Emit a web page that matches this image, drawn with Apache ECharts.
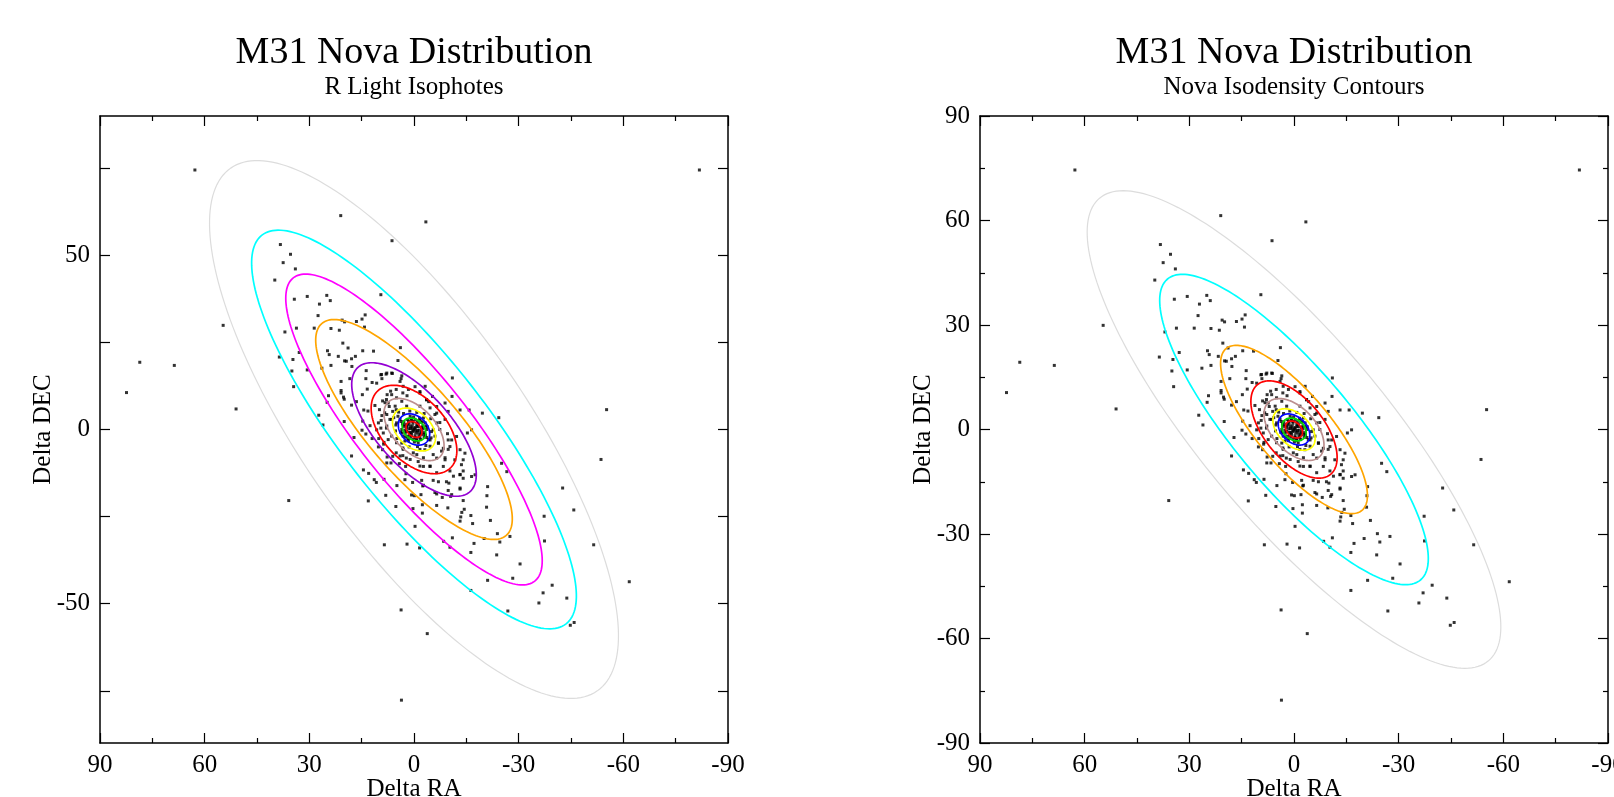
<!DOCTYPE html>
<html>
<head>
<meta charset="utf-8">
<script src="https://cdn.jsdelivr.net/npm/echarts@6/dist/echarts.min.js"></script>
<style>
html, body { margin: 0; padding: 0; background: #fff; }
#chart { width: 1614px; height: 797px; }
</style>
</head>
<body>
<div id="chart"></div>
<script>
// nova positions [Delta RA, Delta DEC]
var novaOuter = [
	[62.8,74.5],[-81.8,74.5],[78.6,19.3],[82.4,10.6],[68.7,18.4],[54.7,29.9],[51.0,5.9],
	[-55.2,5.7],[-53.6,-8.6],[-61.7,-43.7],[3.6,-77.7],[35.9,-20.4],[-3.4,59.6]
]
var novaUpper = [
	[21.0,61.4],[6.3,54.2],[38.3,53.1],[35.4,50.3],[37.5,47.9],[34.0,46.1],[39.9,42.9],[9.5,38.7],
	[34.3,37.4],[30.6,38.2],[25.0,38.5],[24.0,37.0],[27.1,36.0],[27.5,32.7],[20.6,31.4],[19.9,30.9],
	[16.5,31.0],[14.9,31.7],[14.0,32.9],[14.2,29.4],[33.7,29.1],[28.6,29.1],[23.8,29.0],[21.4,28.5],
	[37.0,28.0],[20.4,24.8],[3.9,23.5],
	[38.6,20.8],[32.9,22.1],[34.7,20.1],[35.0,16.8],[30.6,17.1],[34.5,12.3],[24.8,22.6],[24.3,21.5],
	[21.7,21.0],[19.9,19.7],[19.4,19.6],[17.9,20.3],[16.8,21.0],[18.9,23.4],[14.7,22.6],[11.6,22.5],
	[17.8,18.1],[23.8,18.4],[26.4,17.6],[4.6,19.8],[13.7,16.9],[9.5,15.7],[8.0,15.9],[6.2,16.1],
	[9.2,14.6],[3.7,14.6],[3.5,15.4],[20.9,13.8],[18.4,14.6],[13.8,14.6],[12.0,13.5],[20.9,11.2],
	[20.9,10.5],[24.5,9.7],[24.9,7.8],[20.2,9.3],[20.0,8.7],[16.5,8.0],[17.9,7.0],[14.8,10.0],
	[13.4,11.6],[10.7,13.3],[7.7,10.0],[6.7,11.0],[5.1,11.5],[3.2,10.5],[2.0,9.7],[9.0,8.2],
	[8.3,7.7],[7.9,8.6],[14.4,5.6],[13.2,5.3],[14.7,2.4],[14.9,-0.2],[13.8,-1.3],[9.9,5.7],
	[9.2,4.0],[9.4,2.6],[10.2,1.9],[8.4,4.8],[7.1,6.6],[6.1,5.2],[5.1,5.7],[4.6,3.8],[6.9,2.9],
	[7.9,0.4],[9.5,0.4],[10.7,-0.1],[8.8,-1.0],[12.6,1.1],[12.0,-2.6],[10.1,-2.6],[8.6,-3.7],
	[7.4,-2.9],[20.0,2.3],[27.3,4.1],[26.1,1.3],[17.2,-2.3],[17.9,-7.6],[10.2,-5.0],[9.0,-5.8],
	[7.7,-7.9],[6.1,-7.7],[5.1,-6.7],[3.2,-5.3],[3.2,-7.5],[2.2,-8.2],[7.8,-9.6],[6.6,-9.6],
	[4.2,-9.8],[2.3,-12.7],[4.9,-16.1],[14.5,-11.6],[13.0,-12.6],[11.4,-14.4],[10.8,-15.2],
	[8.6,-14.3],[0.4,-15.2],[2.6,-14.4]
]
var novaRight = [
	[-11.0,14.8],[-10.9,9.5],[-8.9,7.6],[-13.2,5.6],[-15.8,5.6],[-19.6,4.7],[-24.3,3.4],[-16.5,-0.1],
	[-15.3,-1.0],[-9.8,5.2],[-5.3,9.5],[-4.2,8.0],[-1.7,10.9],[-0.3,12.3],[-6.5,4.7],[-7.4,2.0],
	[-9.8,-3.0],[-10.8,-3.0],[-12.2,-2.0],[-13.2,-5.8],[-14.6,-6.8],[-14.1,-8.7],[-13.6,-10.1],
	[-11.7,-8.7],[-8.4,-10.6],[-8.9,-8.7],[-6.5,-8.2],[-4.6,-10.6],[-2.7,-10.6],[-1.2,-9.2],
	[-13.2,-13.0],[-14.1,-14.0],[-16.5,-13.5],[-17.5,-13.0],[-21.1,-16.4],[-13.2,-16.8],[-10.0,-15.4],
	[-9.3,-15.0],[-7.0,-15.0],[-5.5,-14.6],[-2.7,-16.0],[-2.2,-14.6],[-25.1,-9.7],[-26.6,-12.1],
	[-42.6,-16.8],[-4.6,-3.0],[-7.0,-4.0],[-8.4,-5.4],[-10.3,-4.9],[-3.1,-5.8],[-0.8,-7.2],
	[-5.5,-0.1],[-3.6,8.5],[-6.5,6.6]
]
var novaLower = [
	[13.1,-20.5],[8.1,-18.9],[0.7,-18.8],[-0.1,-19.0],[5.2,-22.1],[0.3,-22.7],[-0.3,-27.8],
	[8.5,-33.1],[2.0,-32.9],[-1.6,-34.0],[3.7,-51.8],
	[-2.5,-16.2],[-2.0,-18.7],[-6.0,-18.1],[-6.5,-18.5],[-8.1,-19.5],[-9.8,-17.5],[-10.8,-18.7],
	[-10.5,-19.2],[-13.2,-17.1],[-14.1,-20.4],[-20.9,-19.0],[-20.8,-22.3],[-2.4,-21.6],[-6.5,-21.8],
	[-2.4,-24.0],[-9.7,-22.5],[-14.4,-22.9],[-13.7,-23.8],[-16.3,-24.7],[-13.4,-25.1],[-13.2,-26.3],
	[-16.8,-27.0],[-21.9,-26.1],[-23.9,-29.9],[-24.6,-32.3],[-27.5,-30.7],[-20.1,-31.3],[-17.2,-32.7],
	[-11.0,-31.1],[-8.5,-32.1],[-10.3,-33.8],[-16.3,-35.3],[-23.7,-36.0],[-30.4,-38.6],[-28.3,-42.7],
	[-21.1,-43.3],[-16.3,-46.2],[-26.9,-52.1],[-3.8,-58.6],[-37.3,-24.9],[-37.4,-32.0],[-45.8,-23.1],
	[-51.5,-33.1],[-39.6,-44.7],[-37.0,-46.9],[-35.8,-49.8],[-43.8,-48.4],[-44.8,-56.2],[-45.9,-55.4]
]
var novaCore = [
	[9.3,15.8],[7.8,16.2],[6.4,16.2],[4.0,13.8],[3.1,12.4],[1.6,11.5],[-1.7,10.5],[-3.6,8.6],
	[6.4,10.0],[5.0,9.1],[3.5,8.1],[7.4,7.6],[5.4,6.7],[2.1,6.7],[-1.7,6.7],[-4.6,6.2],[-6.0,4.3],
	[7.8,4.3],[6.4,2.9],[5.0,1.9],[7.8,1.0],[-6.5,1.9],[-7.4,0],[-6.0,-1.9],[-7.0,-3.8],[-4.6,-4.8],
	[-1.7,-5.7],[0.2,-6.7],[3.1,-5.7],[5.0,-3.8],[6.4,-1.9],[4.0,-7.6],[1.1,-8.6],[-2.7,-8.1],
	[-5.5,-7.2],[-7.9,-6.2],[-8.9,-8.1],[-9.8,-5.7],[-4.6,-10.5],[-1.7,-10.5],[-6.5,-12.4],
	[-10.3,-11.9],[-11.3,-13.4],[-13.2,-12.9],[-14.1,-11.9],
	[4.4,5.0],[3.0,4.6],[1.2,5.3],[-0.8,4.9],[-2.9,4.6],[-4.8,3.1],[-5.0,-0.6],[-4.9,-2.4],
	[-3.4,-4.6],[-1.0,-4.9],[1.4,-5.0],[3.5,-3.9],[4.9,-2.6],[5.3,-0.4],[5.2,1.3],[5.8,3.4],
	[8.7,-4.2],[-8.9,2.9],[-9.6,-1.2],[2.4,-10.6],[-3.2,12.4],[11.2,6.9]
]
var novaBlob = [
	[0,0],[1.1,1.0],[-1.2,-1.0],[0.7,-1.4],[-0.8,1.4],[2.1,-0.5],[-2.2,0.5],[-0.3,2.9],[0.2,-2.9],
	[1.6,2.4],[-1.7,-2.4],[2.6,1.4],[-2.7,-1.4],[1.9,-1.9],[-2.0,2.1],[3.5,0],[-3.6,0],[3.1,-1.9],
	[-3.2,1.9],[1.1,3.8],[-1.2,-3.8],[4.0,2.9],[-4.1,-2.9],[2.6,-3.3],[-2.7,3.3],[0.6,0.4],
	[-0.6,-0.4],[1.5,0.2],[-1.5,-0.2],[0.3,1.8],[-0.3,-1.8],[1.8,1.5],[-1.8,-1.5],[2.5,-1.0],
	[-2.5,1.0],[0.9,-2.2],[-0.9,2.2],[0.4,-0.6],[-0.4,0.6],[1.3,-0.8],[-1.3,0.8],[2.2,0.6],
	[-2.2,-0.6],[0.8,2.6],[-0.8,-2.6],[1.7,-2.7],[-1.7,2.7],[3.0,0.9],[-3.0,-0.9],[2.9,2.2],
	[-2.9,-2.2],[0.1,3.6],[-0.1,-3.6],[3.8,-0.8],[-3.8,0.8],
	[0.5,1.0],[-0.5,-1.0],[1.0,0.3],[-1.0,-0.3],[0.2,-0.3],[-0.2,0.3],[1.4,1.8],[-1.4,-1.8],
	[2.0,1.0],[-2.0,-1.0],[1.2,-1.6],[-1.2,1.6],[0.3,2.3],[-0.3,-2.3],[2.6,-0.2],[-2.6,0.2],
	[1.9,2.9],[-1.9,-2.9],[3.3,1.6],[-3.3,-1.6],[2.4,-2.2],[-2.4,2.2],[0.7,3.2],[-0.7,-3.2],
	[3.4,-1.0],[-3.4,1.0],[1.6,-3.2],[-1.6,3.2],[3.7,2.3],[-3.7,-2.3],[0.9,-0.9],[-0.9,0.9]
]

// contours: semi-major, semi-minor (arcmin), angle of major axis from +RA (deg)
var lightColors = ['#dcdcdc','#00ffff','#ff00ff','#ffa500','#9400d3','#ff0000','#bc8f8f','#ffff00','#0000ff','#00dd00','#ff0000']
var lightMajor  = [91.6, 70.8, 55.6, 40.3, 24.0, 15.2, 10.8, 7.2, 5.1, 3.8, 2.6]
var lightMinor  = [31.7, 20.7, 15.8, 12.9, 10.5, 9.0, 6.1, 4.9, 3.8, 2.8, 1.9]
var lightAngle  = [55, 52, 51.5, 49, 48, 47, 47, 45, 45, 42, 45]

var densColors = ['#dcdcdc','#00ffff','#ffa500','#ff0000','#bc8f8f','#ffff00','#0000ff','#00dd00','#ff0000']
var densMajor  = [86.7, 56.4, 30.3, 16.6, 10.7, 7.2, 5.25, 3.8, 2.8]
var densMinor  = [26.4, 16.9, 10.4, 8.5, 6.2, 4.5, 3.6, 2.9, 2.0]
var densAngle  = [50, 50, 50, 51, 47, 44, 44, 38, 45]

var decTicksLight = [-50, 0, 50]
var decTicksLightAll = [-75, -50, -25, 0, 25, 50, 75]

var serif = "'Liberation Serif', 'Times New Roman', serif"
var novae = novaOuter.concat(novaUpper, novaRight, novaLower, novaCore, novaBlob)

function ellipseRenderer(colors){
	return function(params, api){
		var a = api.value(0), b = api.value(1), ang = api.value(2) * Math.PI / 180
		var pts = []
		for(var k = 0; k < 200; k++){
			var t = k / 200 * Math.PI * 2
			var x = a * Math.cos(t) * Math.cos(ang) - b * Math.sin(t) * Math.sin(ang)
			var y = a * Math.cos(t) * Math.sin(ang) + b * Math.sin(t) * Math.cos(ang)
			pts.push(api.coord([x, y]))
		}
		return {
			type: 'polygon',
			shape: { points: pts },
			style: { fill: 'none', stroke: colors[params.dataIndex], lineWidth: params.dataIndex == 0 ? 1.2 : 1.7 }
		}
	}
}

function contourData(major, minor, angle){
	var out = []
	for(var i in major){
		out.push([major[i], minor[i], angle[i]])
	}
	return out
}

var lineStyle = { color: '#000', width: 1.5 }
var labelStyle = { fontFamily: serif, fontSize: 25, color: '#000' }

function raAxis(grid, pos){
	return {
		type: 'value', gridIndex: grid, position: pos, min: -90, max: 90, interval: 30, inverse: true,
		axisLine: { show: true, onZero: false, lineStyle: lineStyle },
		axisTick: { show: true, inside: true, length: 10, lineStyle: { color: '#000', width: 1.2 } },
		minorTick: { show: true, splitNumber: 2, length: 5, lineStyle: { color: '#000', width: 1.2 } },
		splitLine: { show: false },
		axisLabel: Object.assign({ show: pos == 'bottom', margin: 10, showMinLabel: true, showMaxLabel: true }, labelStyle),
		name: pos == 'bottom' ? 'Delta RA' : '',
		nameLocation: 'middle', nameGap: 34, nameMoveOverlap: false,
		nameTextStyle: labelStyle
	}
}

function decAxis(grid, pos, light){
	var ax = {
		type: 'value', gridIndex: grid, position: pos, min: -90, max: 90,
		axisLine: { show: true, onZero: false, lineStyle: lineStyle },
		axisTick: { show: true, inside: true, length: 10, lineStyle: { color: '#000', width: 1.2 } },
		splitLine: { show: false },
		axisLabel: Object.assign({ show: pos == 'left', margin: 10, showMinLabel: true, showMaxLabel: true }, labelStyle),
		name: pos == 'left' ? 'Delta DEC' : '',
		nameLocation: 'middle', nameGap: 44, nameRotate: 90, nameMoveOverlap: false,
		nameTextStyle: labelStyle
	}
	if(light){
		ax.axisTick.customValues = decTicksLightAll
		ax.axisLabel.customValues = decTicksLight
	}else{
		ax.interval = 30
		ax.minorTick = { show: true, splitNumber: 2, length: 5, lineStyle: { color: '#000', width: 1.2 } }
	}
	return ax
}

function titleText(x, y, text, size){
	return {
		type: 'text', x: x, y: y,
		style: { text: text, fontFamily: serif, fontSize: size, fill: '#000', align: 'center', verticalAlign: 'middle' }
	}
}

var chart = echarts.init(document.getElementById('chart'), null, { renderer: 'canvas' })
chart.setOption({
	animation: false,
	backgroundColor: '#fff',
	grid: [
		{ left: 100, top: 116, width: 628, height: 627, outerBoundsMode: 'none', containLabel: false },
		{ left: 980, top: 116, width: 628, height: 627, outerBoundsMode: 'none', containLabel: false }
	],
	xAxis: [raAxis(0, 'bottom'), raAxis(0, 'top'), raAxis(1, 'bottom'), raAxis(1, 'top')],
	yAxis: [decAxis(0, 'left', true), decAxis(0, 'right', true), decAxis(1, 'left', false), decAxis(1, 'right', false)],
	graphic: [
		titleText(414, 53, 'M31 Nova Distribution', 38),
		titleText(414, 87, 'R Light Isophotes', 25),
		titleText(1294, 53, 'M31 Nova Distribution', 38),
		titleText(1294, 87, 'Nova Isodensity Contours', 25)
	],
	series: [
		{ type: 'scatter', xAxisIndex: 0, yAxisIndex: 0, data: novae, symbol: 'rect', symbolSize: 3,
		  itemStyle: { color: '#000' }, z: 2, silent: true },
		{ type: 'custom', xAxisIndex: 0, yAxisIndex: 0, data: contourData(lightMajor, lightMinor, lightAngle),
		  renderItem: ellipseRenderer(lightColors), z: 3, silent: true },
		{ type: 'scatter', xAxisIndex: 2, yAxisIndex: 2, data: novae, symbol: 'rect', symbolSize: 3,
		  itemStyle: { color: '#000' }, z: 2, silent: true },
		{ type: 'custom', xAxisIndex: 2, yAxisIndex: 2, data: contourData(densMajor, densMinor, densAngle),
		  renderItem: ellipseRenderer(densColors), z: 3, silent: true }
	]
})
</script>
</body>
</html>
